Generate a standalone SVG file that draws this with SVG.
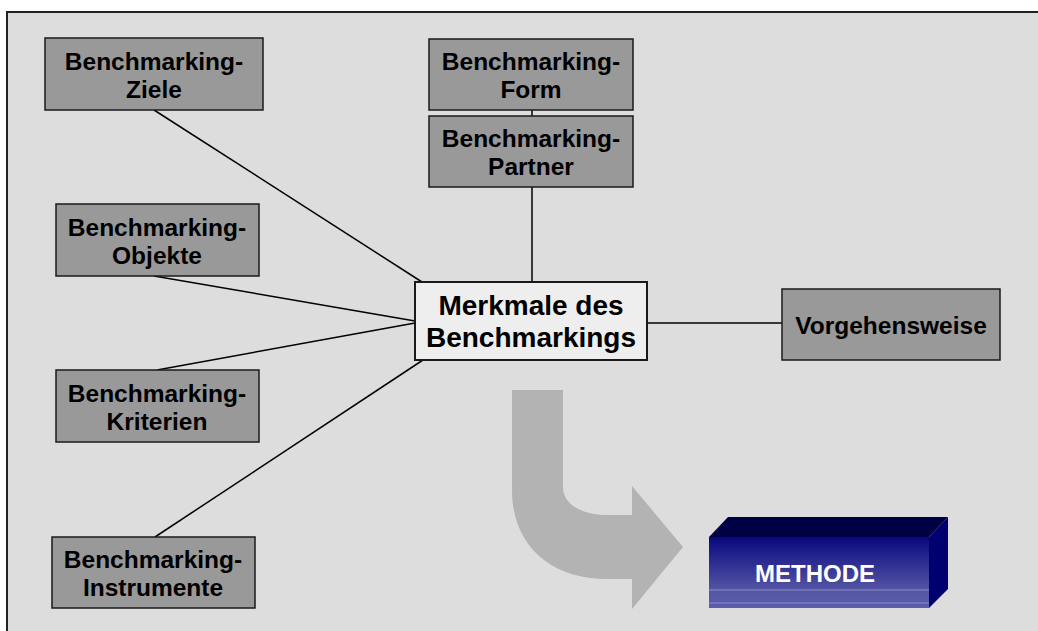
<svg xmlns="http://www.w3.org/2000/svg" width="1038" height="631" viewBox="0 0 1038 631">
  <defs>
    <style>
      .box { fill: #999999; stroke: #1a1a1a; stroke-width: 1.5; }
      .center { fill: #eeeeee; stroke: #1a1a1a; stroke-width: 2; }
      .lbl { font-family: "Liberation Sans", Arial, sans-serif; font-weight: bold; font-size: 24.5px; fill: #000; text-anchor: middle; }
      .big { font-size: 28px; }
      .conn line { stroke: #000; stroke-width: 1.5; }
    </style>
    <linearGradient id="front" x1="0" y1="0" x2="0" y2="1">
      <stop offset="0" stop-color="#08087e"/>
      <stop offset="0.75" stop-color="#5555a5"/>
      <stop offset="1" stop-color="#5c5cae"/>
    </linearGradient>
  </defs>
  <rect x="0" y="0" width="1038" height="631" fill="#ffffff"/>
  <rect x="7" y="12" width="1040" height="630" fill="#dddddd" stroke="#222222" stroke-width="2"/>

  <g id="connectors" class="conn">
    <line x1="154" y1="110" x2="422" y2="282"/>
    <line x1="532" y1="110" x2="532" y2="116"/>
    <line x1="532" y1="187" x2="532" y2="282"/>
    <line x1="154" y1="276" x2="415" y2="321"/>
    <line x1="157" y1="370" x2="415" y2="323"/>
    <line x1="155" y1="537" x2="423" y2="360"/>
    <line x1="647" y1="323" x2="782" y2="323"/>
  </g>

  <g id="arrow">
    <path d="M512,390 L563,390 L563,487 C563,505 583,515 607,515 L632,515 L632,486 L683,547 L632,609 L632,579 L607,579 C550,579 512,545 512,490 Z" fill="#b3b3b3"/>
  </g>

  <g id="ziele">
    <rect class="box" x="45" y="38" width="218" height="72"/>
    <text class="lbl" x="154" y="70">Benchmarking-</text>
    <text class="lbl" x="154" y="98">Ziele</text>
  </g>
  <g id="form">
    <rect class="box" x="429" y="39" width="204" height="71"/>
    <text class="lbl" x="531" y="70">Benchmarking-</text>
    <text class="lbl" x="531" y="98">Form</text>
  </g>
  <g id="partner">
    <rect class="box" x="429" y="116" width="204" height="71"/>
    <text class="lbl" x="531" y="147">Benchmarking-</text>
    <text class="lbl" x="531" y="175">Partner</text>
  </g>
  <g id="objekte">
    <rect class="box" x="56" y="204" width="203" height="72"/>
    <text class="lbl" x="157" y="236">Benchmarking-</text>
    <text class="lbl" x="157" y="264">Objekte</text>
  </g>
  <g id="kriterien">
    <rect class="box" x="56" y="370" width="203" height="72"/>
    <text class="lbl" x="157" y="402">Benchmarking-</text>
    <text class="lbl" x="157" y="430">Kriterien</text>
  </g>
  <g id="instrumente">
    <rect class="box" x="52" y="537" width="203" height="71"/>
    <text class="lbl" x="153" y="568">Benchmarking-</text>
    <text class="lbl" x="153" y="596">Instrumente</text>
  </g>
  <g id="merkmale">
    <rect class="center" x="415" y="282" width="232" height="78"/>
    <text class="lbl big" x="531" y="315">Merkmale des</text>
    <text class="lbl big" x="531" y="347">Benchmarkings</text>
  </g>
  <g id="vorgehensweise">
    <rect class="box" x="782" y="289" width="218" height="71"/>
    <text class="lbl" x="891" y="334">Vorgehensweise</text>
  </g>
  <g id="methode">
    <polygon points="709,537 728,517 948,517 929,537" fill="#000044"/>
    <polygon points="929,537 948,517 948,589 929,608" fill="#000070"/>
    <rect x="709" y="537" width="220" height="71" fill="url(#front)"/>
    <line x1="709" y1="590" x2="929" y2="590" stroke="#8c8cc8" stroke-width="1"/>
    <line x1="709" y1="603" x2="929" y2="603" stroke="#8c8cc8" stroke-width="1"/>
    <text x="815" y="582" font-family="Liberation Sans, Arial, sans-serif" font-weight="bold" font-size="24" fill="#ffffff" text-anchor="middle">METHODE</text>
  </g>
</svg>
